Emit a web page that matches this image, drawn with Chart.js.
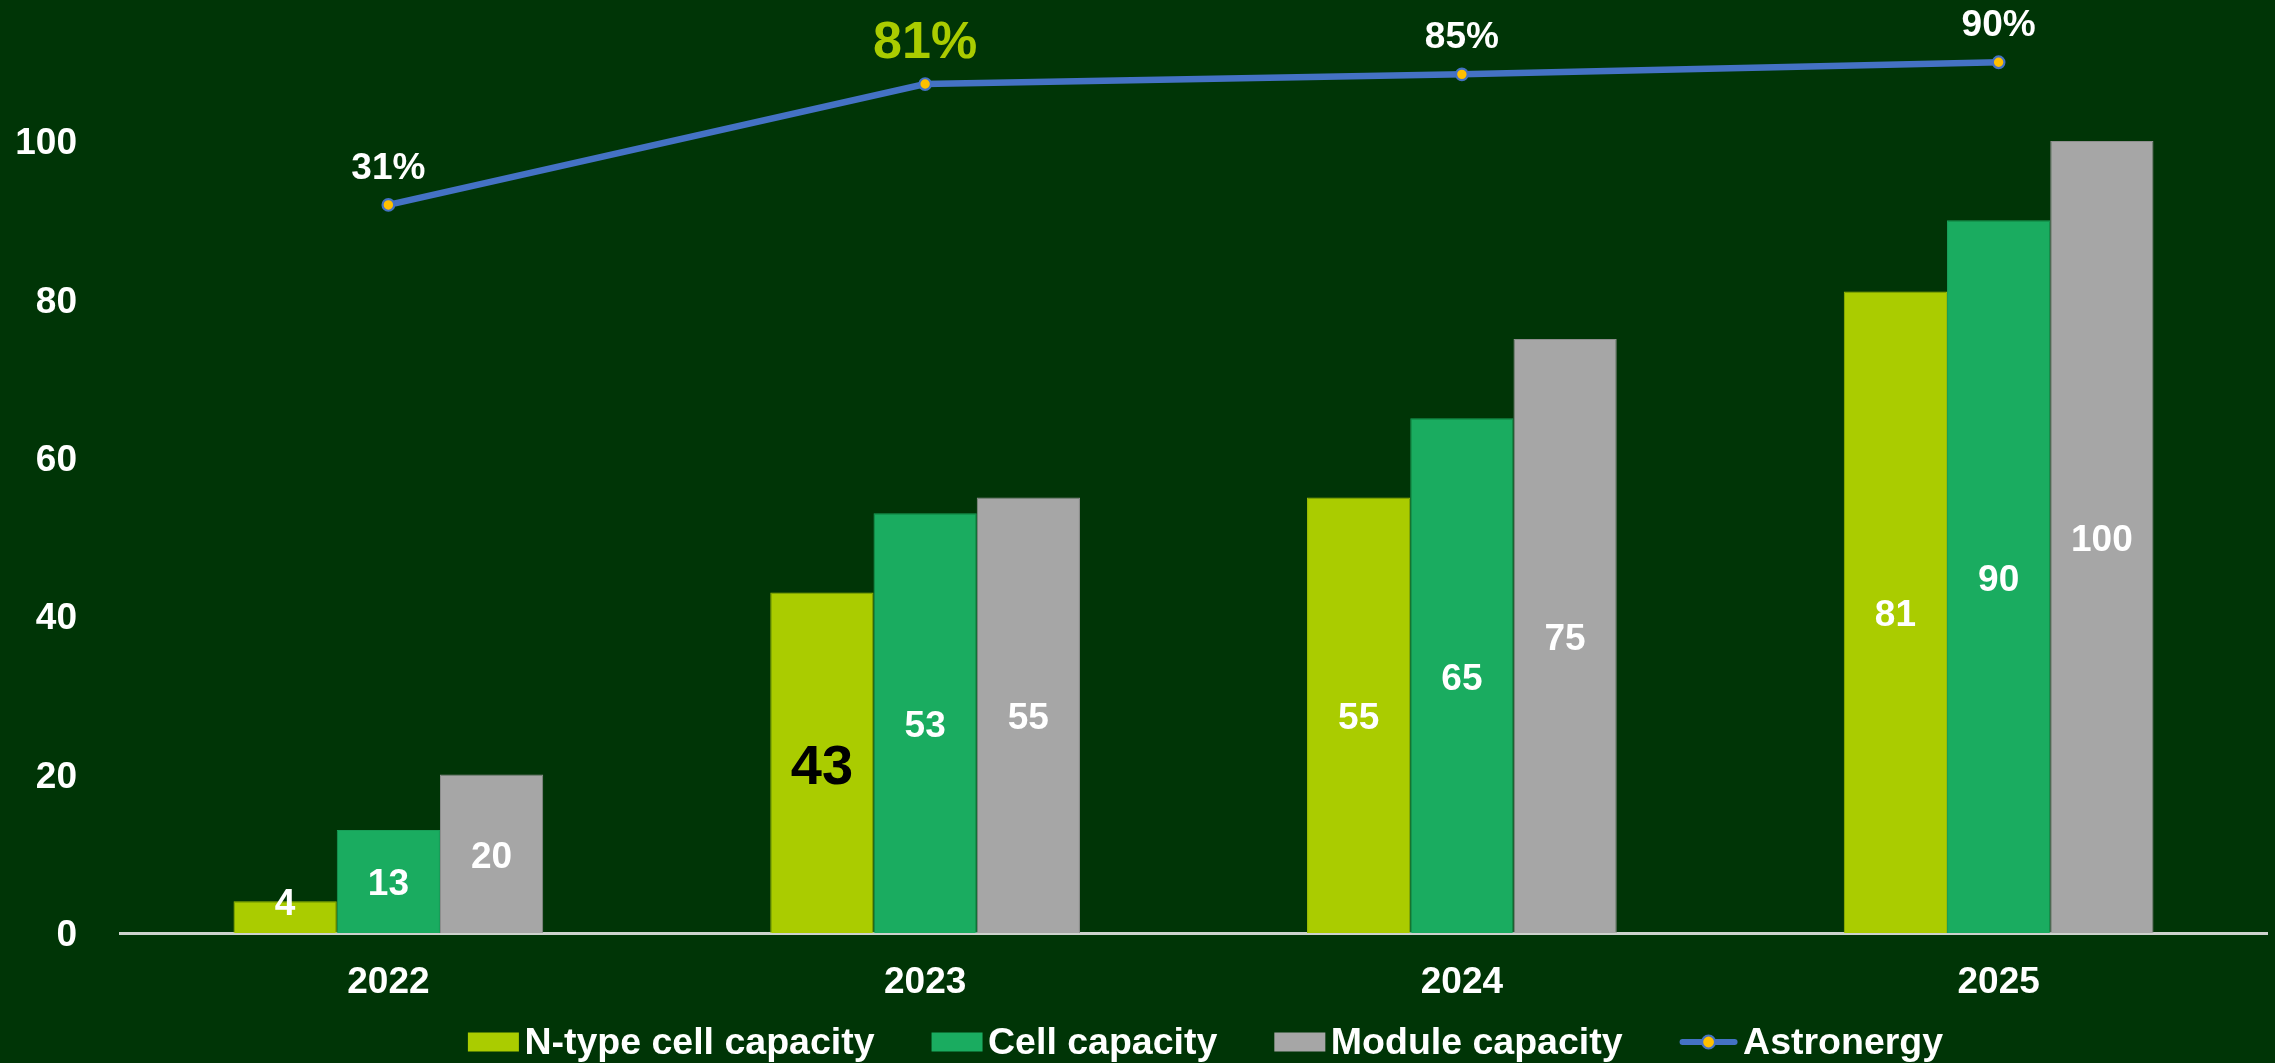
<!DOCTYPE html>
<html><head><meta charset="utf-8">
<script src="https://cdn.jsdelivr.net/npm/chart.js@4.4.1/dist/chart.umd.min.js"></script>
<style>html,body{margin:0;padding:0;background:#003506;overflow:hidden}canvas{display:block}</style>
</head><body>
<canvas id="c" width="2275" height="1063"></canvas>
<script>
const categories = ['2022', '2023', '2024', '2025'];
const nTypeCell = [4, 43, 55, 81];
const cellCapacity = [13, 53, 65, 90];
const moduleCapacity = [20, 55, 75, 100];
const astronergyPct = [31, 81, 85, 90];
const yTickValues = [0, 20, 40, 60, 80, 100];
const seriesNames = ['N-type cell capacity', 'Cell capacity', 'Module capacity', 'Astronergy'];

const FONT = '"Liberation Sans", Arial, sans-serif';
const BG = '#003506';
const C_YELLOW = '#AACC00', C_GREEN = '#1AAC60', C_GREY = '#A6A6A6', C_LINE = '#4472C4', C_MARK = '#FFC000';

const bgPlugin = {
  id: 'bg',
  beforeDraw(chart) {
    const c = chart.ctx; c.save(); c.fillStyle = BG; c.fillRect(0, 0, chart.width, chart.height); c.restore();
  }
};

const labelPlugin = {
  id: 'valueLabels',
  afterDatasetsDraw(chart) {
    const ctx = chart.ctx;
    ctx.save();
    ctx.textAlign = 'center';
    for (let d = 0; d < 3; d++) {
      const meta = chart.getDatasetMeta(d);
      const data = chart.data.datasets[d].data;
      meta.data.forEach((el, i) => {
        const emph = (d === 0 && i === 1);
        const size = emph ? 56 : 37;
        ctx.font = `bold ${size}px ${FONT}`;
        ctx.fillStyle = emph ? '#000000' : '#FFFFFF';
        ctx.textBaseline = 'middle';
        const h = el.base - el.y;
        const y = (h < 40 ? el.y : (el.y + el.base) / 2) + size * 0.1;
        ctx.fillText(String(data[i]), el.x, y);
      });
    }
    const meta = chart.getDatasetMeta(3);
    meta.data.forEach((el, i) => {
      const emph = i === 1;
      ctx.font = `bold ${emph ? 52 : 37}px ${FONT}`;
      ctx.fillStyle = emph ? C_YELLOW : '#FFFFFF';
      ctx.textBaseline = 'alphabetic';
      ctx.fillText(astronergyPct[i] + '%', el.x, el.y - 26);
    });
    ctx.restore();
  }
};

const legendPlugin = {
  id: 'customLegend',
  afterDraw(chart) {
    const ctx = chart.ctx;
    ctx.save();
    ctx.font = `bold 37.5px ${FONT}`;
    const items = chart.data.datasets.map(ds => ({
      text: ds.label, type: ds.type === 'line' ? 'line' : 'box',
      color: ds.type === 'line' ? ds.borderColor : ds.backgroundColor
    }));
    const symW = it => it.type === 'line' ? 58 : 51;
    const gapIn = 5.5, gapOut = 57;
    let total = 0;
    items.forEach((it, k) => {
      it.tw = ctx.measureText(it.text).width;
      it.w = symW(it) + gapIn + it.tw;
      total += it.w + (k ? gapOut : 0);
    });
    const ca = chart.chartArea;
    let x = (ca.left + ca.right) / 2 + 12 - total / 2;
    const yc = chart.height - 21;
    items.forEach(it => {
      if (it.type === 'box') {
        ctx.fillStyle = it.color;
        ctx.fillRect(x, yc - 9.5, 51, 19);
      } else {
        ctx.strokeStyle = it.color; ctx.lineWidth = 6; ctx.lineCap = 'round';
        ctx.beginPath(); ctx.moveTo(x + 3, yc); ctx.lineTo(x + 55, yc); ctx.stroke();
        ctx.beginPath(); ctx.arc(x + 29, yc, 6.5, 0, Math.PI * 2);
        ctx.fillStyle = C_MARK; ctx.fill();
        ctx.lineWidth = 2.2; ctx.strokeStyle = C_LINE; ctx.stroke();
      }
      ctx.fillStyle = '#FFFFFF'; ctx.textAlign = 'left'; ctx.textBaseline = 'middle';
      ctx.fillText(it.text, x + symW(it) + gapIn, yc + 2);
      x += it.w + gapOut;
    });
    ctx.restore();
  }
};

const tickFont = { family: FONT, size: 37, weight: 'bold' };

new Chart(document.getElementById('c'), {
  data: {
    labels: categories,
    datasets: [
      { type: 'bar', label: seriesNames[0], data: nTypeCell, backgroundColor: C_YELLOW, borderColor: '#9CBC05', borderWidth: 1, order: 1, yAxisID: 'y' },
      { type: 'bar', label: seriesNames[1], data: cellCapacity, backgroundColor: C_GREEN, borderColor: '#189F59', borderWidth: 1, order: 1, yAxisID: 'y' },
      { type: 'bar', label: seriesNames[2], data: moduleCapacity, backgroundColor: C_GREY, borderColor: '#8E8E8E', borderWidth: 1, order: 1, yAxisID: 'y' },
      { type: 'line', label: seriesNames[3], data: astronergyPct, borderColor: C_LINE, backgroundColor: C_LINE, borderWidth: 6.5,
        pointRadius: 5.8, pointBorderWidth: 2.2, pointBackgroundColor: C_MARK, pointBorderColor: C_LINE,
        tension: 0, clip: false, order: 0, yAxisID: 'y2' }
    ]
  },
  options: {
    responsive: false,
    animation: false,
    datasets: { bar: { barPercentage: 1, categoryPercentage: 0.577 } },
    layout: { padding: { top: 46, right: 1, bottom: 0, left: 0 } },
    plugins: { legend: { display: false }, tooltip: { enabled: false } },
    scales: {
      x: {
        grid: { display: false, drawTicks: false },
        border: { display: true, color: '#CDD2CD', width: 3 },
        ticks: { color: '#FFFFFF', font: tickFont, padding: 28 },
        afterFit(s) { s.height = 130; s.paddingLeft = 0; s.paddingRight = 0; }
      },
      y: {
        type: 'linear', position: 'left', min: 0, max: 112,
        grid: { display: false, drawTicks: false },
        border: { display: false },
        ticks: { stepSize: 20, color: '#FFFFFF', font: tickFont, padding: 43, labelOffset: 3 },
        afterBuildTicks(s) { s.ticks = yTickValues.map(v => ({ value: v })); },
        afterFit(s) { s.width = 120; s.paddingTop = 0; s.paddingBottom = 0; }
      },
      y2: { type: 'linear', display: false, min: -270.1, max: 96.73 }
    }
  },
  plugins: [bgPlugin, labelPlugin, legendPlugin]
});
</script>
</body></html>
